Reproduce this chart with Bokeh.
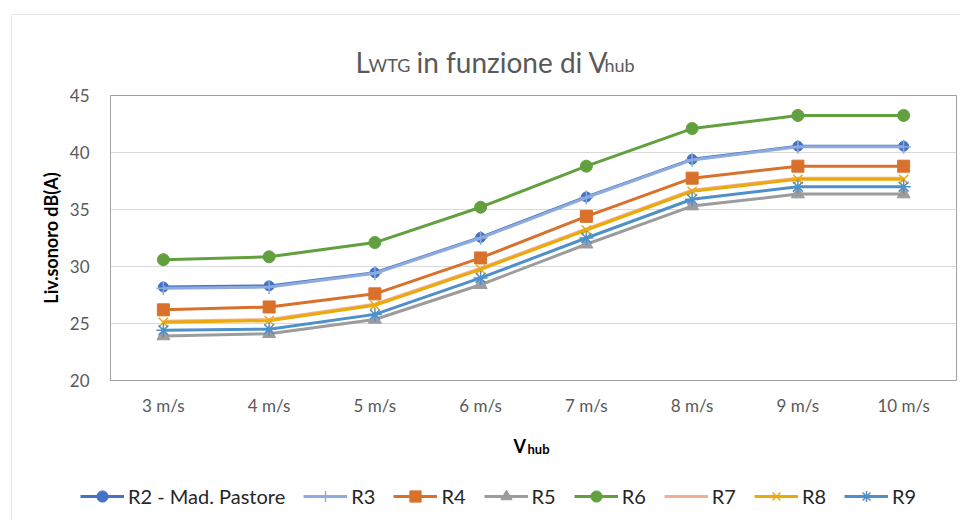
import math
from bokeh.plotting import figure
from bokeh.layouts import column, row
from bokeh.models import (ColumnDataSource, FixedTicker, Legend, LegendItem, Label,
                          BoxAnnotation, Range1d, FactorRange)
from bokeh.embed import file_html
from bokeh.resources import INLINE

# ---------------- data ----------------
categories = ["3 m/s", "4 m/s", "5 m/s", "6 m/s", "7 m/s", "8 m/s", "9 m/s", "10 m/s"]
r2 = [28.2, 28.3, 29.45, 32.55, 36.1, 39.4, 40.55, 40.55]
r3 = [28.1, 28.2, 29.4, 32.5, 36.05, 39.35, 40.5, 40.5]
r4 = [26.2, 26.45, 27.6, 30.75, 34.4, 37.75, 38.8, 38.8]
r5 = [23.9, 24.1, 25.35, 28.4, 31.95, 35.3, 36.35, 36.35]
r6 = [30.6, 30.85, 32.1, 35.2, 38.8, 42.1, 43.25, 43.25]
r7 = [25.2, 25.35, 26.7, 29.85, 33.3, 36.7, 37.75, 37.75]
r8 = [25.1, 25.25, 26.6, 29.75, 33.2, 36.6, 37.65, 37.65]
r9 = [24.4, 24.5, 25.8, 29.0, 32.5, 35.9, 37.0, 37.0]
y_ticks = [20, 25, 30, 35, 40, 45]

series_names = ["R2 - Mad. Pastore", "R3", "R4", "R5", "R6", "R7", "R8", "R9"]
series_values = [r2, r3, r4, r5, r6, r7, r8, r9]

FONT = "Lato"
BORDER = "#A6A6A6"
X0 = 12                       # page x where the main column starts
W = 960 - X0
HA, HB, HC = 80, 345, 95      # title strip, chart, bottom strip
FRAME_LEFT, FRAME_TOP, FRAME_RIGHT, FRAME_BOTTOM = 110, 95, 956, 380  # page pixels


def strip(width, height):
    f = figure(width=width, height=height, x_range=Range1d(0, 1), y_range=Range1d(0, 1),
               output_backend="svg", toolbar_location=None,
               x_axis_location=None, y_axis_location=None,
               min_border_left=0, min_border_right=0, min_border_top=0, min_border_bottom=0)
    f.outline_line_color = None
    f.grid.visible = False
    f.frame_align = False
    return f


def lab(fig, text, x, y, size, bold=False, color="#595959", angle=0.0,
        align="left", baseline="alphabetic"):
    fig.add_layout(Label(x=x, y=y, x_units="screen", y_units="screen", text=text, angle=angle,
                         text_font=FONT, text_font_size=size, text_color=color,
                         text_font_style="bold" if bold else "normal",
                         text_baseline=baseline, text_align=align))


# ---------- left edge of the chart area border ----------
L = strip(X0, HA + HB + HC)
L.add_layout(BoxAnnotation(left=11, right=3000, top=HA + HB + HC - 14, bottom=-3000,
                           left_units="screen", right_units="screen",
                           top_units="screen", bottom_units="screen",
                           fill_alpha=0, line_color=BORDER, line_width=1))

# ---------- title strip ----------
A = strip(W, HA)
A.add_layout(BoxAnnotation(left=-100, right=3000, top=HA - 14, bottom=-3000,
                           left_units="screen", right_units="screen",
                           top_units="screen", bottom_units="screen",
                           fill_alpha=0, line_color=BORDER, line_width=1))
def tl(text, px, py, size):
    lab(A, text, px - X0, HA - py, size)
tl("L", 355, 61, "28px")
tl("WTG", 368, 64, "18px")
tl("in funzione di V", 416, 61, "28px")
tl("hub", 604, 64, "18px")

# ---------- chart ----------
p = figure(width=W, height=HB, x_range=FactorRange(*categories), y_range=Range1d(20, 45),
           output_backend="svg", toolbar_location=None,
           min_border_left=FRAME_LEFT - X0, min_border_right=X0 + W - FRAME_RIGHT,
           min_border_top=FRAME_TOP - HA, min_border_bottom=HA + HB - FRAME_BOTTOM)
p.frame_align = False
p.outline_line_color = "#A0A0A0"
p.outline_line_width = 1
p.xgrid.visible = False
p.ygrid.grid_line_color = "#D9D9D9"
p.ygrid.grid_line_width = 1
p.yaxis.ticker = FixedTicker(ticks=y_ticks)
for ax in (p.xaxis, p.yaxis):
    ax.axis_line_color = None
    ax.major_tick_line_color = None
    ax.minor_tick_line_color = None
    ax.major_label_text_font = FONT
    ax.major_label_text_font_size = "17px"
    ax.major_label_text_color = "#595959"
p.yaxis.major_label_standoff = 15
p.xaxis.major_label_standoff = 8
p.yaxis.axis_label = "Liv.sonoro dB(A)"
p.yaxis.axis_label_text_font = FONT
p.yaxis.axis_label_text_font_size = "18px"
p.yaxis.axis_label_text_font_style = "bold"
p.yaxis.axis_label_text_color = "#000000"
p.yaxis.axis_label_standoff = 5

# ---------- bottom strip: x title + legend ----------
C = figure(width=W, height=HC, x_range=FactorRange(*categories), y_range=Range1d(-10, -9),
           output_backend="svg", toolbar_location=None,
           x_axis_location=None, y_axis_location=None,
           min_border_left=0, min_border_right=0, min_border_top=0, min_border_bottom=0)
C.outline_line_color = None
C.grid.visible = False
C.frame_align = False
CB = HA + HB + HC  # page y of the strip bottom
lab(C, "V", 513 - X0, CB - 445, "18px", bold=True, color="#000000")
lab(C, "hub", 527 - X0, CB - 448, "13px", bold=True, color="#000000")

styles = [
    dict(color="#4472C4", marker="circle", size=10, lw=3, mlw=1),
    dict(color="#8FAADC", marker="cross", size=14, lw=3, mlw=1.5),
    dict(color="#D9702C", marker="square", size=12, lw=3, mlw=1),
    dict(color="#9C9C9C", marker="triangle", size=13, lw=3, mlw=1),
    dict(color="#62A03F", marker="circle", size=12, lw=3, mlw=1),
    dict(color="#F2AE94", marker=None, size=0, lw=3, mlw=1),
    dict(color="#EBAA0A", marker="x", size=13, lw=3, mlw=1.5),
    dict(color="#4F8FCA", marker="asterisk", size=14, lw=3, mlw=1.5),
]

items = []
for name, vals, st in zip(series_names, series_values, styles):
    src = ColumnDataSource(dict(x=categories, y=vals))
    for fig in (p, C):
        rends = [fig.line("x", "y", source=src, line_color=st["color"], line_width=st["lw"])]
        if st["marker"]:
            rends.append(fig.scatter("x", "y", source=src, marker=st["marker"], size=st["size"],
                                     fill_color=st["color"], line_color=st["color"],
                                     line_width=st["mlw"]))
        if fig is C:
            items.append(LegendItem(label=name, renderers=rends))

LEG_H = 28
LEG_TOP = 496 - LEG_H // 2   # page y
legend = Legend(items=items, orientation="horizontal",
                location=(80 - X0, CB - LEG_TOP - LEG_H),
                padding=0, margin=0, spacing=18, label_standoff=4,
                glyph_width=44, glyph_height=LEG_H, label_height=LEG_H,
                label_text_font=FONT, label_text_font_size="20px",
                label_text_color="#262626", border_line_color=None,
                background_fill_alpha=0)
C.add_layout(legend, "center")

layout = row(L, column(A, p, C, spacing=0), spacing=0)
open("out.html", "w").write(file_html(layout, INLINE))
